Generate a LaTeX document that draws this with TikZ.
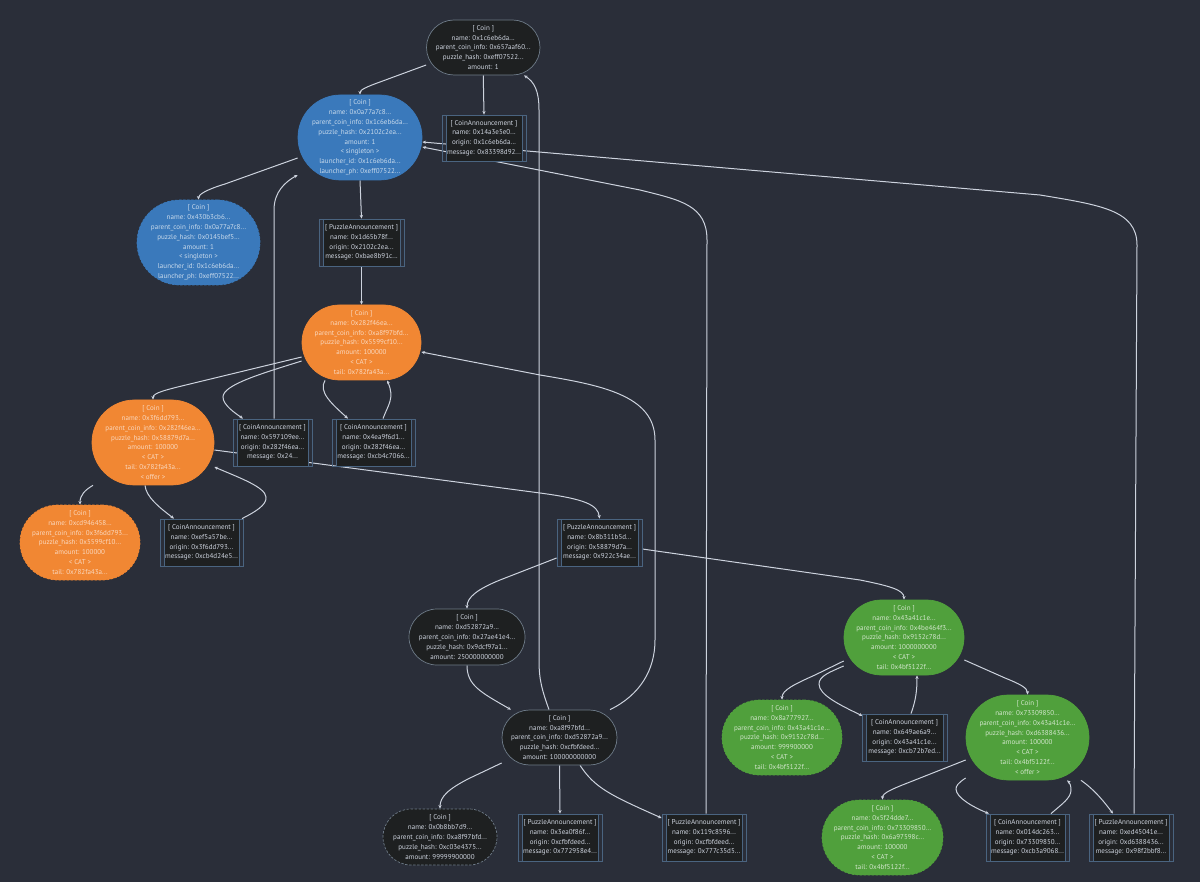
\documentclass[tikz,border=0pt]{standalone}
\usepackage{fontspec}
\setmainfont{PT Sans}
\usetikzlibrary{arrows.meta,backgrounds}
\definecolor{bgc}{HTML}{2A2E39}
\definecolor{edgec}{HTML}{CDD3DE}
\definecolor{darkc}{HTML}{1E2021}
\definecolor{orangec}{HTML}{F18733}
\definecolor{bluec}{HTML}{3A79BB}
\definecolor{greenc}{HTML}{50A03C}
\definecolor{darkline}{HTML}{6E7B88}
\definecolor{boxline}{HTML}{4A6480}
\tikzset{
  txt/.style={align=center,inner sep=0pt,font=\fontsize{7.05}{9.8}\selectfont},
  coinshape/.style={txt,text=#1},
  darkcoin/.style={coinshape=edgec,fill=darkc,draw=darkline,line width=.7pt},
  bluecoin/.style={coinshape=white!72!bluec,fill=bluec,draw=bluec,line width=.7pt},
  orangecoin/.style={coinshape=white!68!orangec,fill=orangec,draw=orangec,line width=.7pt},
  greencoin/.style={coinshape=white!74!greenc,fill=greenc,draw=greenc,line width=.7pt},
  spent/.style={dashed,dash pattern=on 2.5pt off 1.5pt},
  annbox/.style={txt,text=edgec,draw=boxline,line width=.8pt,
    path picture={
      \fill[darkc] ([xshift=4pt]path picture bounding box.north west) rectangle ([xshift=-4pt]path picture bounding box.south east);
      \draw[boxline,line width=.8pt] ([xshift=4pt]path picture bounding box.north west) -- ([xshift=4pt]path picture bounding box.south west);
      \draw[boxline,line width=.8pt] ([xshift=-4pt]path picture bounding box.north east) -- ([xshift=-4pt]path picture bounding box.south east);
    }},
  edge/.style={draw=edgec,line width=1pt,-{Stealth[length=3.6pt,width=3.2pt]}},
}
\newcommand{\coin}[7][]{\node[#6,#1,minimum width={(#3-#2)*1pt},minimum height={(#5-#4)*1pt},rounded corners={(#5-#4)/2*1pt}] at ({(#2+#3)/2},{(#4+#5)/2}) {#7};}
\newcommand{\ann}[6]{\node[annbox,minimum width={(#3-#2)*1pt},minimum height={(#5-#4)*1pt}] (#1) at ({(#2+#3)/2},{(#4+#5)/2}) {#6};}
\begin{document}
\begin{tikzpicture}[x=1pt,y=-1pt]
\useasboundingbox (0,0) rectangle (1200,882);
% coins
\coin{426.5}{540}{20}{75}{darkcoin,name=T}{[ Coin ]\\name: 0x1c6eb6da...\\parent\_coin\_info: 0x657aaf60...\\puzzle\_hash: 0xeff07522...\\amount: 1}
\coin{298}{422}{95}{180}{bluecoin,name=B}{[ Coin ]\\name: 0x0a77a7c8...\\parent\_coin\_info: 0x1c6eb6da...\\puzzle\_hash: 0x2102c2ea...\\amount: 1\\< singleton >\\launcher\_id: 0x1c6eb6da...\\launcher\_ph: 0xeff07522...}
\coin[spent]{137}{260}{200}{285}{bluecoin,name=C2}{[ Coin ]\\name: 0x430b3cb6...\\parent\_coin\_info: 0x0a77a7c8...\\puzzle\_hash: 0x0145bef5...\\amount: 1\\< singleton >\\launcher\_id: 0x1c6eb6da...\\launcher\_ph: 0xeff07522...}
\coin{302}{421}{305}{380}{orangecoin,name=O1}{[ Coin ]\\name: 0x282f46ea...\\parent\_coin\_info: 0xa8f97bfd...\\puzzle\_hash: 0x5599cf10...\\amount: 100000\\< CAT >\\tail: 0x782fa43a...}
\coin{92}{214}{400}{485}{orangecoin,name=O2}{[ Coin ]\\name: 0x3f6dd793...\\parent\_coin\_info: 0x282f46ea...\\puzzle\_hash: 0x58879d7a...\\amount: 100000\\< CAT >\\tail: 0x782fa43a...\\< offer >}
\coin[spent]{20}{140}{505}{580}{orangecoin,name=O3}{[ Coin ]\\name: 0xcd946458...\\parent\_coin\_info: 0x3f6dd793...\\puzzle\_hash: 0x5599cf10...\\amount: 100000\\< CAT >\\tail: 0x782fa43a...}
\coin{409}{525}{609}{665}{darkcoin,name=K}{[ Coin ]\\name: 0xd52872a9...\\parent\_coin\_info: 0x27ae41e4...\\puzzle\_hash: 0x9dcf97a1...\\amount: 250000000000}
\coin{502}{617}{710}{765}{darkcoin,name=M}{[ Coin ]\\name: 0xa8f97bfd...\\parent\_coin\_info: 0xd52872a9...\\puzzle\_hash: 0xcfbfdeed...\\amount: 100000000000}
\coin[spent]{383}{497}{809}{865}{darkcoin,name=D}{[ Coin ]\\name: 0x0b8bb7d9...\\parent\_coin\_info: 0xa8f97bfd...\\puzzle\_hash: 0xc03e4375...\\amount: 99999900000}
\coin{844}{964}{600}{675}{greencoin,name=G1}{[ Coin ]\\name: 0x43a41c1e...\\parent\_coin\_info: 0x4be464f3...\\puzzle\_hash: 0x9152c78d...\\amount: 1000000000\\< CAT >\\tail: 0x4bf5122f...}
\coin[spent]{722}{842}{700}{775}{greencoin,name=G3}{[ Coin ]\\name: 0x8a777927...\\parent\_coin\_info: 0x43a41c1e...\\puzzle\_hash: 0x9152c78d...\\amount: 999900000\\< CAT >\\tail: 0x4bf5122f...}
\coin{966}{1089}{695}{780}{greencoin,name=G2}{[ Coin ]\\name: 0x73309850...\\parent\_coin\_info: 0x43a41c1e...\\puzzle\_hash: 0xd6388436...\\amount: 100000\\< CAT >\\tail: 0x4bf5122f...\\< offer >}
\coin[spent]{822}{943}{800}{875}{greencoin,name=G4}{[ Coin ]\\name: 0x5f24dde7...\\parent\_coin\_info: 0x73309850...\\puzzle\_hash: 0x6a97598c...\\amount: 100000\\< CAT >\\tail: 0x4bf5122f...}
% announcements
\ann{A1}{442}{526}{115}{161}{[ CoinAnnouncement ]\\name: 0x14a3e5e0...\\origin: 0x1c6eb6da...\\message: 0x83398d92...}
\ann{P1}{319}{404}{219}{266}{[ PuzzleAnnouncement ]\\name: 0x1d65b78f...\\origin: 0x2102c2ea...\\message: 0xbae8b91c...}
\ann{CA}{233}{312}{419}{466}{[ CoinAnnouncement ]\\name: 0x597109ee...\\origin: 0x282f46ea...\\message: 0x24...}
\ann{CB}{332}{415}{419}{466}{[ CoinAnnouncement ]\\name: 0x4ea9f6d1...\\origin: 0x282f46ea...\\message: 0xcb4c7066...}
\ann{CC}{160}{243}{519}{566}{[ CoinAnnouncement ]\\name: 0xef5a57be...\\origin: 0x3f6dd793...\\message: 0xcb4d24e5...}
\ann{PA}{557}{642}{519}{566}{[ PuzzleAnnouncement ]\\name: 0x8b311b5d...\\origin: 0x58879d7a...\\message: 0x922c34ae...}
\ann{P3}{518}{602}{814}{861}{[ PuzzleAnnouncement ]\\name: 0x3ea0f86f...\\origin: 0xcfbfdeed...\\message: 0x772958e4...}
\ann{PB}{662}{746}{814}{861}{[ PuzzleAnnouncement ]\\name: 0x119c8596...\\origin: 0xcfbfdeed...\\message: 0x777c35d5...}
\ann{CD}{862}{947}{714}{761}{[ CoinAnnouncement ]\\name: 0x649ae6a9...\\origin: 0x43a41c1e...\\message: 0xcb72b7ed...}
\ann{CE}{986}{1069}{814}{861}{[ CoinAnnouncement ]\\name: 0x014dc263...\\origin: 0x73309850...\\message: 0xcb3a9068...}
\ann{PE}{1089}{1173}{814}{861}{[ PuzzleAnnouncement ]\\name: 0xed45041e...\\origin: 0xd6388436...\\message: 0x98f2bbf8...}
\begin{scope}[on background layer]
\fill[bgc] (0,0) rectangle (1200,882);
\draw[edge] ([shift={(0,17.5)}]T.west) -- (380,82) .. controls (366,87) and (360,90) .. (B.north);
\draw[edge] (T.south) -- (A1.north);
\draw[edge] ([shift={(2,0)}]PB.north) -- (707,240) .. controls (707,205) and (680,200) .. (640,190) -- ([shift={(0,9.5)}]B.east);
\draw[edge] ([shift={(3,0)}]PE.north) -- (1137,245) .. controls (1137,210) and (1100,205) .. (1040,195) -- ([shift={(0,4.5)}]B.east);
\draw[edge] ([shift={(0,20.5)}]B.west) -- (225,184) .. controls (205,190) and (198.5,195) .. (C2.north);
\draw[edge] ([shift={(1.5,0)}]CA.north) -- (274,210) .. controls (274,192) and (285,182) .. ([shift={(0,37.5)}]B.west);
\draw[edge] (B.south) -- (P1.north);
\draw[edge] (P1.south) -- (O1.north);
\draw[edge] ([shift={(0,14.5)}]O1.west) -- (190,384) .. controls (165,390) and (153,393) .. (O2.north);
\draw[edge] ([shift={(0,18.5)}]O1.west) .. controls (260,374) and (223,385) .. (223,397) .. controls (223,405) and (235,413) .. ([shift={(-29.5,0)}]CA.north);
\draw[edge] ([shift={(-36.5,0)}]O1.south) .. controls (318,392) and (332,404) .. ([shift={(-25.5,0)}]CB.north);
\draw[edge] ([shift={(9.5,0)}]CB.north) .. controls (388,405) and (395,398) .. ([shift={(25.5,0)}]O1.south);
\draw[edge] ([shift={(0,7.5)}]O2.east) -- (540,493) .. controls (585,499) and (598,505) .. (PA.north);
\draw[edge] ([shift={(-8,0)}]O2.south) .. controls (146,497) and (160,508) .. ([shift={(-27.5,0)}]CC.north);
\draw[edge] ([shift={(40.5,0)}]CC.north) .. controls (255,512) and (267,505) .. (266,497) .. controls (265,487) and (240,478) .. ([shift={(0,24.5)}]O2.east);
\draw[edge] ([shift={(-60,0)}]O2.south) .. controls (85,490) and (80,495) .. (O3.north);
\draw[edge] ([shift={(-10.5,0)}]M.north) .. controls (542,690) and (539,680) .. (539,660) -- (539,110) .. controls (539,90) and (534,82) .. ([shift={(40.75,0)}]T.south);
\draw[edge] ([shift={(50.5,0)}]M.north) .. controls (640,695) and (655,670) .. (655,640) -- (655,440) .. controls (655,395) and (600,385) .. (540,375) -- ([shift={(0,9.5)}]O1.east);
\draw[edge] ([shift={(0,15.5)}]PA.west) -- (500,580) .. controls (478,589) and (467,597) .. (K.north);
\draw[edge] ([shift={(0,6.5)}]PA.east) -- (860,580) .. controls (890,586) and (904,590) .. (G1.north);
\draw[edge] (K.south) .. controls (467,685) and (480,692) .. ([shift={(-48.5,0)}]M.north);
\draw[edge] ([shift={(0,25.5)}]M.west) -- (470,778) .. controls (448,789) and (440,797) .. (D.north);
\draw[edge] (M.south) -- (P3.north);
\draw[edge] ([shift={(20.5,0)}]M.south) .. controls (595,788) and (610,795) .. ([shift={(0,-19.5)}]PB.west);
\draw[edge] ([shift={(0,22.5)}]G1.east) -- (1005,678) .. controls (1020,684) and (1027.5,688) .. (G2.north);
\draw[edge] ([shift={(0,23.5)}]G1.west) -- (815,675) .. controls (795,684) and (782,690) .. (G3.north);
\draw[edge] ([shift={(0,28.5)}]G1.west) .. controls (830,672) and (819,676) .. (819,684) .. controls (819,695) and (840,705) .. ([shift={(1,-21.5)}]CD.west);
\draw[edge] ([shift={(6.5,0)}]CD.north) .. controls (916,700) and (917,690) .. ([shift={(13,0)}]G1.south);
\draw[edge] ([shift={(0,22.5)}]G2.west) -- (910,782) .. controls (892,789) and (882.5,793) .. (G4.north);
\draw[edge] ([shift={(0,40.5)}]G2.west) .. controls (958,783) and (956,786) .. (956,789) .. controls (956,798) and (975,808) .. ([shift={(-38.5,0)}]CE.north);
\draw[edge] ([shift={(23.5,0)}]CE.north) .. controls (1062,804) and (1071,798) .. (1071,790) .. controls (1071,786) and (1070,783) .. ([shift={(39.5,0)}]G2.south);
\draw[edge] ([shift={(53.5,0)}]G2.south) .. controls (1095,790) and (1105,803) .. ([shift={(-18,0)}]PE.north);
\end{scope}
\end{tikzpicture}
\end{document}
